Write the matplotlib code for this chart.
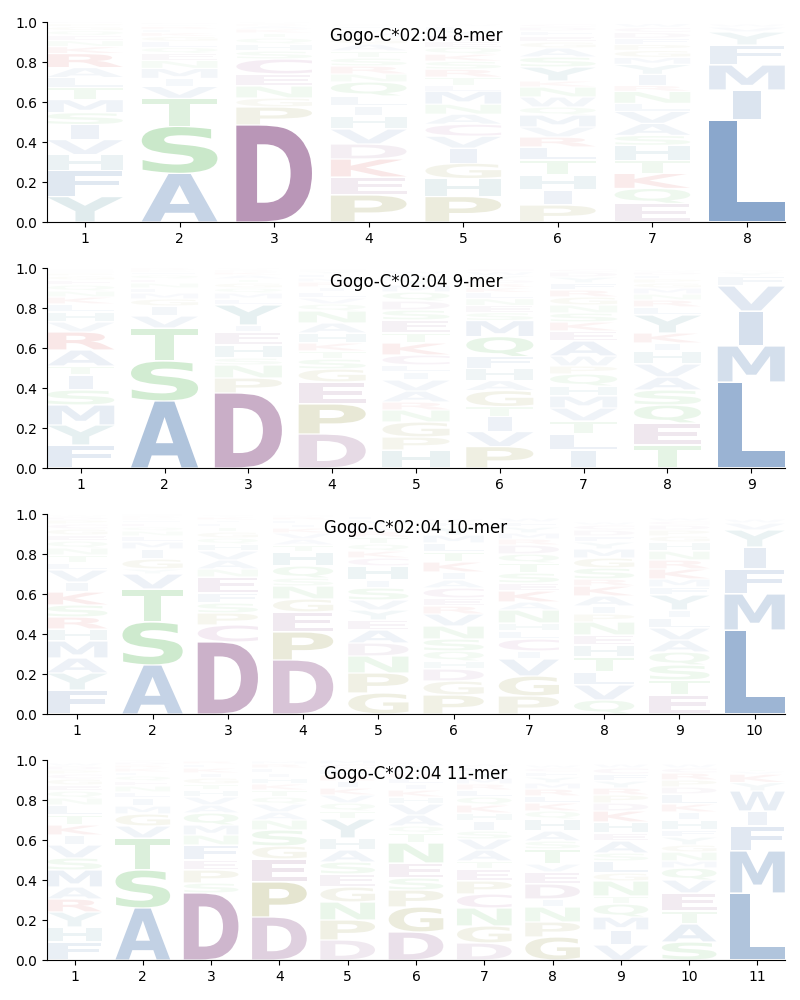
import numpy as np
import matplotlib
matplotlib.use('Agg')
import matplotlib.pyplot as plt
from matplotlib.textpath import TextPath
from matplotlib.font_manager import FontProperties
from matplotlib.patches import PathPatch
from matplotlib.transforms import Affine2D

allele = 'Gogo-C*02:04'

# letters of each position, bottom to top, with their stack heights
letters_8 = ['YFHVISMTLARKNEQGPD', 'ASTVIMNEQLGKFRYD', 'DPGNECSHQTKARV', 'PEKDVHILQNRSTAGMYFC',
             'PHGIVCANMLTRSKQEDYFW', 'PIHTLRVMQWNKYSAGEFDC', 'EQKTHSAVLNRIYMGPFDCW', 'LIMFYVW']
heights_8 = [[.127, .13, .08, .075, .075, .06, .065, .06, .05, .05, .07, .035, .03, .025, .025, .02, .015, .01],
             [.243, .235, .14, .06, .04, .05, .04, .035, .03, .03, .025, .02, .015, .015, .01, .01],
             [.485, .09, .045, .06, .06, .075, .04, .035, .03, .025, .02, .015, .01, .01],
             [.135, .09, .09, .075, .075, .065, .05, .05, .07, .04, .04, .04, .035, .035, .03, .025, .02, .015, .01],
             [.127, .09, .077, .075, .06, .06, .05, .05, .065, .03, .04, .04, .04, .035, .035, .03, .03, .025, .02, .01],
             [.085, .075, .075, .075, .065, .05, .05, .06, .04, .05, .05, .03, .07, .05, .045, .03, .03, .025, .02, .015],
             [.093, .075, .075, .065, .075, .05, .06, .06, .04, .06, .03, .055, .05, .035, .035, .03, .03, .03, .025, .02],
             [.51, .15, .125, .1, .065, .025, .015]]

letters_9 = ['FYMSITARVHLKNQEGPCD', 'ASTVIGMLNEQFKR', 'DPNSHEIYLMQGTAKRV', 'DPEGSTKHANQVLIRMFYC',
             'HPGNRAVILCKTESDQMYFW', 'PVITGAHFQMSENLKRDYWC', 'ILTVMHQPWAEKSNGRFYDC', 'TEQSAVHIKYLRNMGPFDW', 'LMIVFYWT']
heights_9 = [[.115, .1, .1, .075, .075, .045, .08, .09, .05, .05, .04, .035, .03, .03, .025, .02, .015, .01, .01],
             [.335, .2, .165, .06, .05, .035, .03, .025, .025, .02, .02, .015, .01, .01],
             [.375, .075, .065, .035, .065, .065, .035, .1, .03, .03, .025, .025, .02, .02, .015, .01, .01],
             [.17, .15, .11, .065, .05, .04, .04, .05, .05, .06, .035, .03, .03, .025, .025, .02, .02, .015, .01],
             [.09, .065, .075, .06, .04, .055, .055, .04, .035, .05, .06, .05, .065, .05, .045, .045, .035, .03, .025, .015],
             [.107, .075, .075, .05, .08, .05, .06, .06, .1, .08, .04, .035, .035, .03, .025, .02, .02, .02, .02, .015],
             [.09, .08, .065, .065, .06, .05, .06, .04, .05, .075, .05, .045, .045, .04, .04, .035, .035, .03, .025, .015],
             [.115, .11, .09, .075, .065, .065, .065, .04, .05, .09, .04, .035, .03, .03, .025, .02, .02, .015, .01],
             [.43, .18, .175, .125, .05, .02, .01, .005]]

letters_10 = ['FYAMHRSKIVLTNQEGCPDW', 'ASTVYGIMLNQEFKRD', 'DCPSFENAVHQGTLIKY', 'DPEGNSQHTAVKILRM',
              'GPNDAEYVSIHCKQTRLMF', 'PGDHQSNVRECAIKTLMYFW', 'PGVICLHNAKESTQDRMYFW', 'QVLTHENPIAKRSGMYFDCW',
              'ETSQAVLIYFMKRNHGPDCW', 'LMFIYVWT']
heights_10 = [[.12, .085, .075, .085, .06, .06, .06, .065, .05, .06, .035, .04, .035, .035, .03, .03, .025, .02, .015, .01],
              [.245, .215, .165, .075, .025, .05, .05, .035, .03, .025, .02, .02, .015, .01, .01, .01],
              [.36, .085, .06, .05, .05, .08, .04, .045, .045, .035, .03, .03, .025, .02, .015, .015, .01],
              [.27, .14, .1, .065, .065, .04, .06, .07, .035, .03, .03, .025, .02, .02, .015, .01],
              [.105, .1, .085, .065, .065, .05, .05, .05, .06, .04, .07, .04, .035, .035, .035, .03, .03, .025, .02],
              [.095, .07, .06, .04, .05, .06, .065, .06, .04, .04, .05, .04, .04, .05, .05, .045, .04, .04, .025, .015],
              [.09, .1, .085, .04, .06, .04, .04, .065, .04, .055, .04, .05, .05, .045, .045, .03, .03, .03, .025, .02],
              [.07, .075, .065, .075, .06, .05, .065, .04, .04, .05, .05, .035, .055, .05, .045, .035, .03, .03, .025, .015],
              [.095, .075, .075, .065, .06, .06, .05, .04, .075, .04, .04, .05, .045, .045, .045, .03, .03, .025, .02, .015],
              [.42, .18, .125, .11, .085, .035, .02, .01]]

letters_11 = ['FHYRAMSVIKTLNQEGCPDW', 'ASTVGMILNEQFKRDY', 'DSPEFNMQAVHTGIKLR', 'DPEGSNAVQTKHILRM',
              'DPNGESAHYTQVKIRLCM', 'DGPSENTQAVHKILRMYC', 'DGNCPETAVSIHKQLRMYFW', 'GPNIDEVTSAHQKLRMYFCW',
              'VIMQTNGLSAEHKDPRYFCW', 'SATEVQMNGYFHIKLDPRCW', 'LMFIWYKVT']
heights_11 = [[.09, .075, .075, .065, .06, .085, .06, .065, .05, .05, .05, .05, .035, .035, .03, .03, .025, .02, .02, .015],
              [.26, .19, .16, .06, .06, .04, .04, .03, .03, .025, .025, .02, .02, .015, .015, .01],
              [.335, .05, .065, .05, .075, .05, .05, .06, .04, .04, .035, .03, .03, .025, .025, .02, .015],
              [.215, .175, .115, .065, .08, .05, .04, .04, .035, .035, .03, .03, .025, .025, .02, .015],
              [.1, .1, .09, .075, .065, .06, .06, .06, .095, .04, .04, .04, .035, .035, .03, .03, .025, .02],
              [.14, .125, .085, .06, .075, .1, .05, .035, .055, .055, .035, .035, .03, .03, .025, .02, .02, .015],
              [.085, .085, .09, .07, .065, .06, .04, .055, .055, .04, .05, .04, .04, .04, .035, .03, .03, .03, .025, .015],
              [.115, .075, .075, .04, .075, .06, .04, .075, .04, .05, .06, .04, .04, .035, .035, .03, .03, .025, .02, .015],
              [.075, .075, .065, .065, .04, .075, .04, .06, .04, .06, .04, .055, .055, .04, .04, .035, .035, .035, .03, .02],
              [.09, .09, .065, .09, .065, .06, .035, .045, .035, .04, .035, .05, .04, .04, .05, .035, .035, .035, .025, .02],
              [.335, .21, .125, .075, .1, .042, .042, .015, .01]]

colors = {}
for aa in 'AVLIMFW':
    colors[aa] = '#8aa7cc'
for aa in 'HY':
    colors[aa] = '#86b4bc'
for aa in 'STNQ':
    colors[aa] = '#8fd08f'
for aa in 'DE':
    colors[aa] = '#b793b5'
colors['C'] = '#c08ab8'
for aa in 'PG':
    colors[aa] = '#b5b57a'
for aa in 'KR':
    colors[aa] = '#e07a7a'

fp = FontProperties(family='DejaVu Sans', weight='bold')
e_width = TextPath((0, 0), 'E', size=1, prop=fp).get_extents().width


def draw_letter(ax, ch, x, y0, h, width=0.8, pad=0.003):
    path = TextPath((0, 0), ch, size=1, prop=fp)
    ext = path.get_extents()
    # don't stretch narrow glyphs more than an E would be
    sx = min(width / ext.width, width / e_width)
    sy = max(h - 2 * pad, 1e-4) / ext.height
    w = ext.width * sx
    t = Affine2D().translate(-ext.x0, -ext.y0).scale(sx, sy).translate(x - w / 2, y0 + pad)
    alpha = min(1.0, 2.0 * h)
    ax.add_patch(PathPatch(t.transform_path(path), facecolor=colors[ch],
                           edgecolor='none', alpha=alpha))


panels = [('8-mer', letters_8, heights_8),
          ('9-mer', letters_9, heights_9),
          ('10-mer', letters_10, heights_10),
          ('11-mer', letters_11, heights_11)]

fig = plt.figure(figsize=(8, 10), dpi=100)
bottoms = [0.778, 0.532, 0.286, 0.04]

for (name, letters, heights), b in zip(panels, bottoms):
    ax = fig.add_axes([0.059, b, 0.922, 0.2])
    n = len(letters)
    for i in range(n):
        y = 0.0
        for ch, h in zip(letters[i], heights[i]):
            draw_letter(ax, ch, i + 1, y, h)
            y += h
    ax.set_xlim(0.6, n + 0.4)
    ax.set_ylim(0, 1)
    ax.set_xticks(range(1, n + 1))
    ax.set_yticks(np.arange(0, 1.01, 0.2))
    ax.spines['top'].set_visible(False)
    ax.spines['right'].set_visible(False)
    ax.text(0.5, 0.93, '%s %s' % (allele, name), transform=ax.transAxes,
            ha='center', va='center', fontsize=12, zorder=10)

plt.savefig('out.png', dpi=100)
